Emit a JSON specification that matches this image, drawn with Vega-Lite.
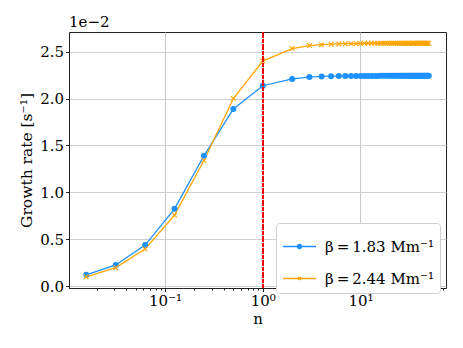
{
  "$schema": "https://vega.github.io/schema/vega-lite/v6.json",
  "width": 377,
  "height": 256,
  "autosize": "none",
  "padding": {"left": 69, "top": 32, "right": 17, "bottom": 60},
  "background": "white",
  "config": {
    "view": {"stroke": "#222", "strokeWidth": 1},
    "font": "DejaVu Serif"
  },
  "title": {"text": "1e−2", "anchor": "start", "frame": "group", "fontSize": 15, "font": "DejaVu Serif", "fontWeight": "normal", "offset": 2, "color": "black"},
  "data": {"values": [
    {"n": 0.015625, "g": 0.00120, "beta": "β = 1.83 Mm⁻¹"},
    {"n": 0.03125, "g": 0.00226, "beta": "β = 1.83 Mm⁻¹"},
    {"n": 0.0625, "g": 0.00438, "beta": "β = 1.83 Mm⁻¹"},
    {"n": 0.125, "g": 0.00824, "beta": "β = 1.83 Mm⁻¹"},
    {"n": 0.25, "g": 0.01390, "beta": "β = 1.83 Mm⁻¹"},
    {"n": 0.5, "g": 0.01890, "beta": "β = 1.83 Mm⁻¹"},
    {"n": 1, "g": 0.02137, "beta": "β = 1.83 Mm⁻¹"},
    {"n": 2, "g": 0.02210, "beta": "β = 1.83 Mm⁻¹"},
    {"n": 3, "g": 0.02229, "beta": "β = 1.83 Mm⁻¹"},
    {"n": 4, "g": 0.02236, "beta": "β = 1.83 Mm⁻¹"},
    {"n": 5, "g": 0.02239, "beta": "β = 1.83 Mm⁻¹"},
    {"n": 6, "g": 0.02240, "beta": "β = 1.83 Mm⁻¹"},
    {"n": 7, "g": 0.02241, "beta": "β = 1.83 Mm⁻¹"},
    {"n": 8, "g": 0.02242, "beta": "β = 1.83 Mm⁻¹"},
    {"n": 9, "g": 0.02242, "beta": "β = 1.83 Mm⁻¹"},
    {"n": 10, "g": 0.02242, "beta": "β = 1.83 Mm⁻¹"},
    {"n": 11, "g": 0.02242, "beta": "β = 1.83 Mm⁻¹"},
    {"n": 12, "g": 0.02242, "beta": "β = 1.83 Mm⁻¹"},
    {"n": 13, "g": 0.02242, "beta": "β = 1.83 Mm⁻¹"},
    {"n": 14, "g": 0.02242, "beta": "β = 1.83 Mm⁻¹"},
    {"n": 15, "g": 0.02242, "beta": "β = 1.83 Mm⁻¹"},
    {"n": 16, "g": 0.02243, "beta": "β = 1.83 Mm⁻¹"},
    {"n": 17, "g": 0.02243, "beta": "β = 1.83 Mm⁻¹"},
    {"n": 18, "g": 0.02243, "beta": "β = 1.83 Mm⁻¹"},
    {"n": 19, "g": 0.02243, "beta": "β = 1.83 Mm⁻¹"},
    {"n": 20, "g": 0.02243, "beta": "β = 1.83 Mm⁻¹"},
    {"n": 21, "g": 0.02243, "beta": "β = 1.83 Mm⁻¹"},
    {"n": 22, "g": 0.02243, "beta": "β = 1.83 Mm⁻¹"},
    {"n": 23, "g": 0.02243, "beta": "β = 1.83 Mm⁻¹"},
    {"n": 24, "g": 0.02243, "beta": "β = 1.83 Mm⁻¹"},
    {"n": 25, "g": 0.02243, "beta": "β = 1.83 Mm⁻¹"},
    {"n": 26, "g": 0.02243, "beta": "β = 1.83 Mm⁻¹"},
    {"n": 27, "g": 0.02243, "beta": "β = 1.83 Mm⁻¹"},
    {"n": 28, "g": 0.02243, "beta": "β = 1.83 Mm⁻¹"},
    {"n": 29, "g": 0.02243, "beta": "β = 1.83 Mm⁻¹"},
    {"n": 30, "g": 0.02243, "beta": "β = 1.83 Mm⁻¹"},
    {"n": 31, "g": 0.02243, "beta": "β = 1.83 Mm⁻¹"},
    {"n": 32, "g": 0.02243, "beta": "β = 1.83 Mm⁻¹"},
    {"n": 33, "g": 0.02243, "beta": "β = 1.83 Mm⁻¹"},
    {"n": 34, "g": 0.02243, "beta": "β = 1.83 Mm⁻¹"},
    {"n": 35, "g": 0.02243, "beta": "β = 1.83 Mm⁻¹"},
    {"n": 36, "g": 0.02243, "beta": "β = 1.83 Mm⁻¹"},
    {"n": 37, "g": 0.02243, "beta": "β = 1.83 Mm⁻¹"},
    {"n": 38, "g": 0.02243, "beta": "β = 1.83 Mm⁻¹"},
    {"n": 39, "g": 0.02243, "beta": "β = 1.83 Mm⁻¹"},
    {"n": 40, "g": 0.02243, "beta": "β = 1.83 Mm⁻¹"},
    {"n": 41, "g": 0.02243, "beta": "β = 1.83 Mm⁻¹"},
    {"n": 42, "g": 0.02243, "beta": "β = 1.83 Mm⁻¹"},
    {"n": 43, "g": 0.02243, "beta": "β = 1.83 Mm⁻¹"},
    {"n": 44, "g": 0.02243, "beta": "β = 1.83 Mm⁻¹"},
    {"n": 45, "g": 0.02243, "beta": "β = 1.83 Mm⁻¹"},
    {"n": 46, "g": 0.02243, "beta": "β = 1.83 Mm⁻¹"},
    {"n": 47, "g": 0.02243, "beta": "β = 1.83 Mm⁻¹"},
    {"n": 48, "g": 0.02243, "beta": "β = 1.83 Mm⁻¹"},
    {"n": 49, "g": 0.02243, "beta": "β = 1.83 Mm⁻¹"},
    {"n": 50, "g": 0.02243, "beta": "β = 1.83 Mm⁻¹"},
    {"n": 0.015625, "g": 0.00099, "beta": "β = 2.44 Mm⁻¹"},
    {"n": 0.03125, "g": 0.00197, "beta": "β = 2.44 Mm⁻¹"},
    {"n": 0.0625, "g": 0.00396, "beta": "β = 2.44 Mm⁻¹"},
    {"n": 0.125, "g": 0.00757, "beta": "β = 2.44 Mm⁻¹"},
    {"n": 0.25, "g": 0.01340, "beta": "β = 2.44 Mm⁻¹"},
    {"n": 0.5, "g": 0.02000, "beta": "β = 2.44 Mm⁻¹"},
    {"n": 1, "g": 0.02400, "beta": "β = 2.44 Mm⁻¹"},
    {"n": 2, "g": 0.02533, "beta": "β = 2.44 Mm⁻¹"},
    {"n": 3, "g": 0.02565, "beta": "β = 2.44 Mm⁻¹"},
    {"n": 4, "g": 0.02575, "beta": "β = 2.44 Mm⁻¹"},
    {"n": 5, "g": 0.02580, "beta": "β = 2.44 Mm⁻¹"},
    {"n": 6, "g": 0.02583, "beta": "β = 2.44 Mm⁻¹"},
    {"n": 7, "g": 0.02585, "beta": "β = 2.44 Mm⁻¹"},
    {"n": 8, "g": 0.02586, "beta": "β = 2.44 Mm⁻¹"},
    {"n": 9, "g": 0.02587, "beta": "β = 2.44 Mm⁻¹"},
    {"n": 10, "g": 0.02588, "beta": "β = 2.44 Mm⁻¹"},
    {"n": 11, "g": 0.02589, "beta": "β = 2.44 Mm⁻¹"},
    {"n": 12, "g": 0.02589, "beta": "β = 2.44 Mm⁻¹"},
    {"n": 13, "g": 0.02589, "beta": "β = 2.44 Mm⁻¹"},
    {"n": 14, "g": 0.02589, "beta": "β = 2.44 Mm⁻¹"},
    {"n": 15, "g": 0.02589, "beta": "β = 2.44 Mm⁻¹"},
    {"n": 16, "g": 0.02589, "beta": "β = 2.44 Mm⁻¹"},
    {"n": 17, "g": 0.02589, "beta": "β = 2.44 Mm⁻¹"},
    {"n": 18, "g": 0.02589, "beta": "β = 2.44 Mm⁻¹"},
    {"n": 19, "g": 0.02589, "beta": "β = 2.44 Mm⁻¹"},
    {"n": 20, "g": 0.02589, "beta": "β = 2.44 Mm⁻¹"},
    {"n": 21, "g": 0.02590, "beta": "β = 2.44 Mm⁻¹"},
    {"n": 22, "g": 0.02590, "beta": "β = 2.44 Mm⁻¹"},
    {"n": 23, "g": 0.02590, "beta": "β = 2.44 Mm⁻¹"},
    {"n": 24, "g": 0.02590, "beta": "β = 2.44 Mm⁻¹"},
    {"n": 25, "g": 0.02590, "beta": "β = 2.44 Mm⁻¹"},
    {"n": 26, "g": 0.02590, "beta": "β = 2.44 Mm⁻¹"},
    {"n": 27, "g": 0.02590, "beta": "β = 2.44 Mm⁻¹"},
    {"n": 28, "g": 0.02590, "beta": "β = 2.44 Mm⁻¹"},
    {"n": 29, "g": 0.02590, "beta": "β = 2.44 Mm⁻¹"},
    {"n": 30, "g": 0.02590, "beta": "β = 2.44 Mm⁻¹"},
    {"n": 31, "g": 0.02590, "beta": "β = 2.44 Mm⁻¹"},
    {"n": 32, "g": 0.02590, "beta": "β = 2.44 Mm⁻¹"},
    {"n": 33, "g": 0.02590, "beta": "β = 2.44 Mm⁻¹"},
    {"n": 34, "g": 0.02590, "beta": "β = 2.44 Mm⁻¹"},
    {"n": 35, "g": 0.02590, "beta": "β = 2.44 Mm⁻¹"},
    {"n": 36, "g": 0.02590, "beta": "β = 2.44 Mm⁻¹"},
    {"n": 37, "g": 0.02590, "beta": "β = 2.44 Mm⁻¹"},
    {"n": 38, "g": 0.02590, "beta": "β = 2.44 Mm⁻¹"},
    {"n": 39, "g": 0.02590, "beta": "β = 2.44 Mm⁻¹"},
    {"n": 40, "g": 0.02590, "beta": "β = 2.44 Mm⁻¹"},
    {"n": 41, "g": 0.02590, "beta": "β = 2.44 Mm⁻¹"},
    {"n": 42, "g": 0.02590, "beta": "β = 2.44 Mm⁻¹"},
    {"n": 43, "g": 0.02590, "beta": "β = 2.44 Mm⁻¹"},
    {"n": 44, "g": 0.02590, "beta": "β = 2.44 Mm⁻¹"},
    {"n": 45, "g": 0.02590, "beta": "β = 2.44 Mm⁻¹"},
    {"n": 46, "g": 0.02590, "beta": "β = 2.44 Mm⁻¹"},
    {"n": 47, "g": 0.02590, "beta": "β = 2.44 Mm⁻¹"},
    {"n": 48, "g": 0.02590, "beta": "β = 2.44 Mm⁻¹"},
    {"n": 49, "g": 0.02590, "beta": "β = 2.44 Mm⁻¹"},
    {"n": 50, "g": 0.02590, "beta": "β = 2.44 Mm⁻¹"}
  ]},
  "encoding": {
    "x": {
      "field": "n", "type": "quantitative",
      "scale": {"type": "log", "domain": [0.0104, 75], "nice": false},
      "axis": {
        "title": "n",
        "titleFont": "DejaVu Serif", "titleFontSize": 15, "titleFontWeight": "normal", "titleColor": "black", "titlePadding": 3,
        "values": [0.02,0.03,0.04,0.05,0.06,0.07,0.08,0.09,0.1,0.2,0.3,0.4,0.5,0.6,0.7,0.8,0.9,1,2,3,4,5,6,7,8,9,10,20,30,40,50,60,70],
        "labelExpr": "datum.value == 0.1 ? '10⁻¹' : datum.value == 1 ? '10⁰' : datum.value == 10 ? '10¹' : ''",
        "labelFont": "DejaVu Serif", "labelFontSize": 15, "labelColor": "black", "labelPadding": 2, "labelFlush": false, "labelOverlap": false,
        "tickSize": {"condition": {"test": "datum.value == 0.1 || datum.value == 1 || datum.value == 10", "value": 3.5}, "value": 2},
        "tickColor": "#222",
        "domainColor": "#222",
        "grid": true,
        "gridColor": "#c8c8c8",
        "gridOpacity": {"condition": {"test": "datum.value == 0.1 || datum.value == 1 || datum.value == 10", "value": 1}, "value": 0}
      }
    },
    "y": {
      "field": "g", "type": "quantitative",
      "scale": {"domain": [-0.0002, 0.0271], "nice": false, "zero": false},
      "axis": {
        "title": "Growth rate [s⁻¹]",
        "titleFont": "DejaVu Serif", "titleFontSize": 15.5, "titleFontWeight": "normal", "titleColor": "black", "titlePadding": 5,
        "values": [0, 0.005, 0.01, 0.015, 0.02, 0.025],
        "labelExpr": "format(datum.value * 100, '.1f')",
        "labelFont": "DejaVu Serif", "labelFontSize": 15, "labelColor": "black", "labelPadding": 2,
        "tickSize": 3.5, "tickColor": "#222", "domainColor": "#222",
        "grid": true, "gridColor": "#d0d0d0"
      }
    }
  },
  "layer": [
    {
      "mark": {"type": "line", "strokeWidth": 1.3},
      "encoding": {
        "color": {
          "field": "beta", "type": "nominal",
          "scale": {"domain": ["β = 1.83 Mm⁻¹", "β = 2.44 Mm⁻¹"], "range": ["#1e90ff", "#ffa500"]},
          "legend": {
            "title": null,
            "orient": "none", "legendX": 207, "legendY": 191,
            "fillColor": "white", "strokeColor": "#d0d0d0", "cornerRadius": 3, "padding": 6,
            "symbolSize": 1089, "symbolStrokeWidth": 1.3,
            "labelFont": "DejaVu Serif", "labelFontSize": 15, "labelColor": "black", "labelOffset": 8,
            "rowPadding": 6,
            "labelExpr": "replace(replace(datum.label, ' = ', '\u2009=\u2009'), ' = ', '\u2009=\u2009')",
            "encode": {
              "symbols": {"update": {
                "shape": {"signal": "datum.value === 'β = 1.83 Mm⁻¹' ? 'M-1,0H1M-0.12,0A0.12,0.12,0,1,1,0.12,0A0.12,0.12,0,1,1,-0.12,0Z' : 'M-1,0H1M-0.09,-0.09L0.09,0.09M-0.09,0.09L0.09,-0.09'"},
                "fill": {"signal": "datum.value === 'β = 1.83 Mm⁻¹' ? '#1e90ff' : 'transparent'"},
                "stroke": {"signal": "datum.value === 'β = 1.83 Mm⁻¹' ? '#1e90ff' : '#ffa500'"}
              }}
            }
          }
        }
      }
    },
    {
      "transform": [{"filter": "datum.beta === 'β = 1.83 Mm⁻¹'"}],
      "mark": {"type": "point", "shape": "circle", "filled": true, "size": 36, "color": "#1e90ff", "opacity": 1}
    },
    {
      "transform": [{"filter": "datum.beta === 'β = 2.44 Mm⁻¹'"}],
      "mark": {"type": "point", "shape": "M-1,-1L1,1M-1,1L1,-1", "filled": false, "size": 22, "stroke": "#ffa500", "strokeWidth": 1.1, "opacity": 1}
    },
    {
      "mark": {"type": "rule", "color": "#ff0000", "strokeDash": [1.2, 1.2], "strokeWidth": 1, "opacity": 0.6},
      "encoding": {"x": {"datum": 1}, "y": {"value": 0}, "y2": {"value": 256}}
    }
  ]
}
